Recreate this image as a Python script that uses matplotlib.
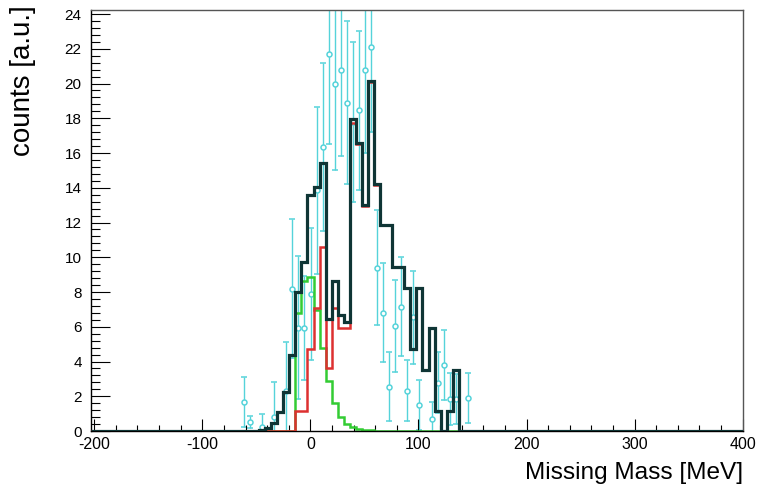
import numpy as np
import matplotlib
matplotlib.use("Agg")
import matplotlib.pyplot as plt
from matplotlib.ticker import MultipleLocator

plt.rcParams['font.family'] = ['Liberation Sans', 'DejaVu Sans']
plt.rcParams['axes.unicode_minus'] = False

# binning: bin k runs from zero_edge + k*bin_width, k = first_bin ... first_bin+len-1
bin_width = 5.6
zero_edge = 2.9
first_bin = -12

# total (dark), signal-like (red), background-like (green), counts per bin
total_counts = [0, 0, 0, 0.07, 0.2, 0.45, 1.1, 2.26, 4.37, 8.0, 9.7, 13.6,
                14.06, 15.4, 6.43, 8.65, 6.68, 6.29, 17.94, 16.6, 13.0, 20.14,
                14.2, 11.86, 11.86, 9.46, 9.46, 8.25, 4.7, 8.25, 3.5, 5.9,
                1.17, 0, 1.17, 3.5, 0, 0, 0]
red_counts = [0, 0, 0, 0, 0, 0, 0, 0, 0, 1.17, 1.17, 4.7,
              7.1, 10.6, 3.6, 7.1, 5.9, 5.9, 17.7, 16.5, 12.95, 20.1,
              14.18, 11.85, 11.85, 9.45, 9.45, 8.24, 4.7, 8.24, 3.5, 5.9,
              1.17, 0, 1.17, 3.5, 0, 0, 0]
green_counts = [0, 0, 0, 0, 0, 0, 0, 0, 0, 6.8, 8.63, 8.85,
                6.96, 4.76, 2.86, 1.61, 0.82, 0.42, 0.22, 0.1, 0.05, 0.03,
                0.02, 0.01, 0, 0, 0, 0, 0, 0, 0, 0,
                0, 0, 0, 0, 0, 0, 0]

# data points (bin index, value, error)
data_bins = [-12, -11, -9, -7, -5, -4, -3, -2, -1, 0, 1, 2, 3, 4, 5, 6, 7, 8,
             9, 10, 11, 12, 13, 14, 15, 16, 17, 19, 20, 21, 22, 23, 25]
data_vals = [1.69, 0.52, 0.25, 0.8, 2.3, 8.2, 5.95, 5.95, 7.87, 13.85, 16.35,
             21.7, 19.95, 20.8, 18.9, 17.8, 18.45, 20.8, 22.1, 9.4, 6.81, 2.55,
             6.04, 7.15, 2.32, 6.54, 1.5, 0.67, 2.78, 3.8, 1.84, 1.84, 1.92]
data_errs = [1.44, 0.36, 0.7, 2.0, 2.85, 4.0, 4.1, 3.0, 3.8, 4.8, 4.85,
             5.2, 4.95, 5.0, 4.7, 4.6, 4.6, 4.8, 4.9, 3.3, 2.85, 2.0,
             2.65, 2.85, 1.75, 2.67, 1.45, 1.0, 1.77, 2.0, 1.5, 1.45, 1.44]

x_min, x_max = -203.3, 400
y_max = 24.23

edges = zero_edge + bin_width * np.arange(first_bin, first_bin + len(total_counts) + 1)
full_edges = np.concatenate([[x_min], edges, [x_max]])


def padded(counts):
    return np.concatenate([[0], counts, [0]])


centers = zero_edge + bin_width * (np.array(data_bins) + 0.5)

fig = plt.figure(figsize=(7.59, 4.84), dpi=100)
ax = fig.add_axes([0.1195, 0.1095, 0.859, 0.8698])

cyan = '#55d3da'
ax.errorbar(centers, data_vals, yerr=data_errs, fmt='o', ms=3.6, mfc='white',
            mec=cyan, mew=1.1, ecolor=cyan, elinewidth=1.0, capsize=2.0,
            capthick=0.9, zorder=1)
ax.errorbar(centers, data_vals, xerr=1.6, fmt='none', ecolor=cyan,
            elinewidth=1.1, capsize=0, zorder=1)

ax.stairs(padded(green_counts), full_edges, color='#33cc33', lw=1.8, zorder=2)
ax.stairs(padded(red_counts), full_edges, color='#dd3030', lw=1.8, zorder=3)
ax.stairs(padded(total_counts), full_edges, color='#0f3535', lw=2.3, zorder=4)

ax.set_xlim(x_min, x_max)
ax.set_ylim(0, y_max)
ax.set_xticks(np.arange(-200, 401, 100))
ax.xaxis.set_minor_locator(MultipleLocator(20))
ax.yaxis.set_major_locator(MultipleLocator(2))
ax.yaxis.set_minor_locator(MultipleLocator(0.4))

ax.tick_params(axis='x', which='major', direction='in', length=9, width=0.8,
               labelsize=11.5, pad=4)
ax.tick_params(axis='x', which='minor', direction='in', length=4.5, width=0.8)
ax.tick_params(axis='y', which='major', direction='in', length=13.5, width=0.8,
               labelsize=11, pad=6.5)
ax.tick_params(axis='y', which='minor', direction='in', length=6.8, width=0.8)

for side in ['top', 'right']:
    ax.spines[side].set_color('#555555')
    ax.spines[side].set_linewidth(1.0)
for side in ['left', 'bottom']:
    ax.spines[side].set_linewidth(1.0)

fig.text(742.7 / 759, 1 - 479 / 484, 'Missing Mass [MeV]', ha='right',
         va='baseline', fontsize=17.6)
fig.text(23 / 759, 1 - 5 / 484, 'counts [a.u.]', rotation=90, ha='center',
         va='top', fontsize=20)

plt.savefig('out.png', dpi=100)
